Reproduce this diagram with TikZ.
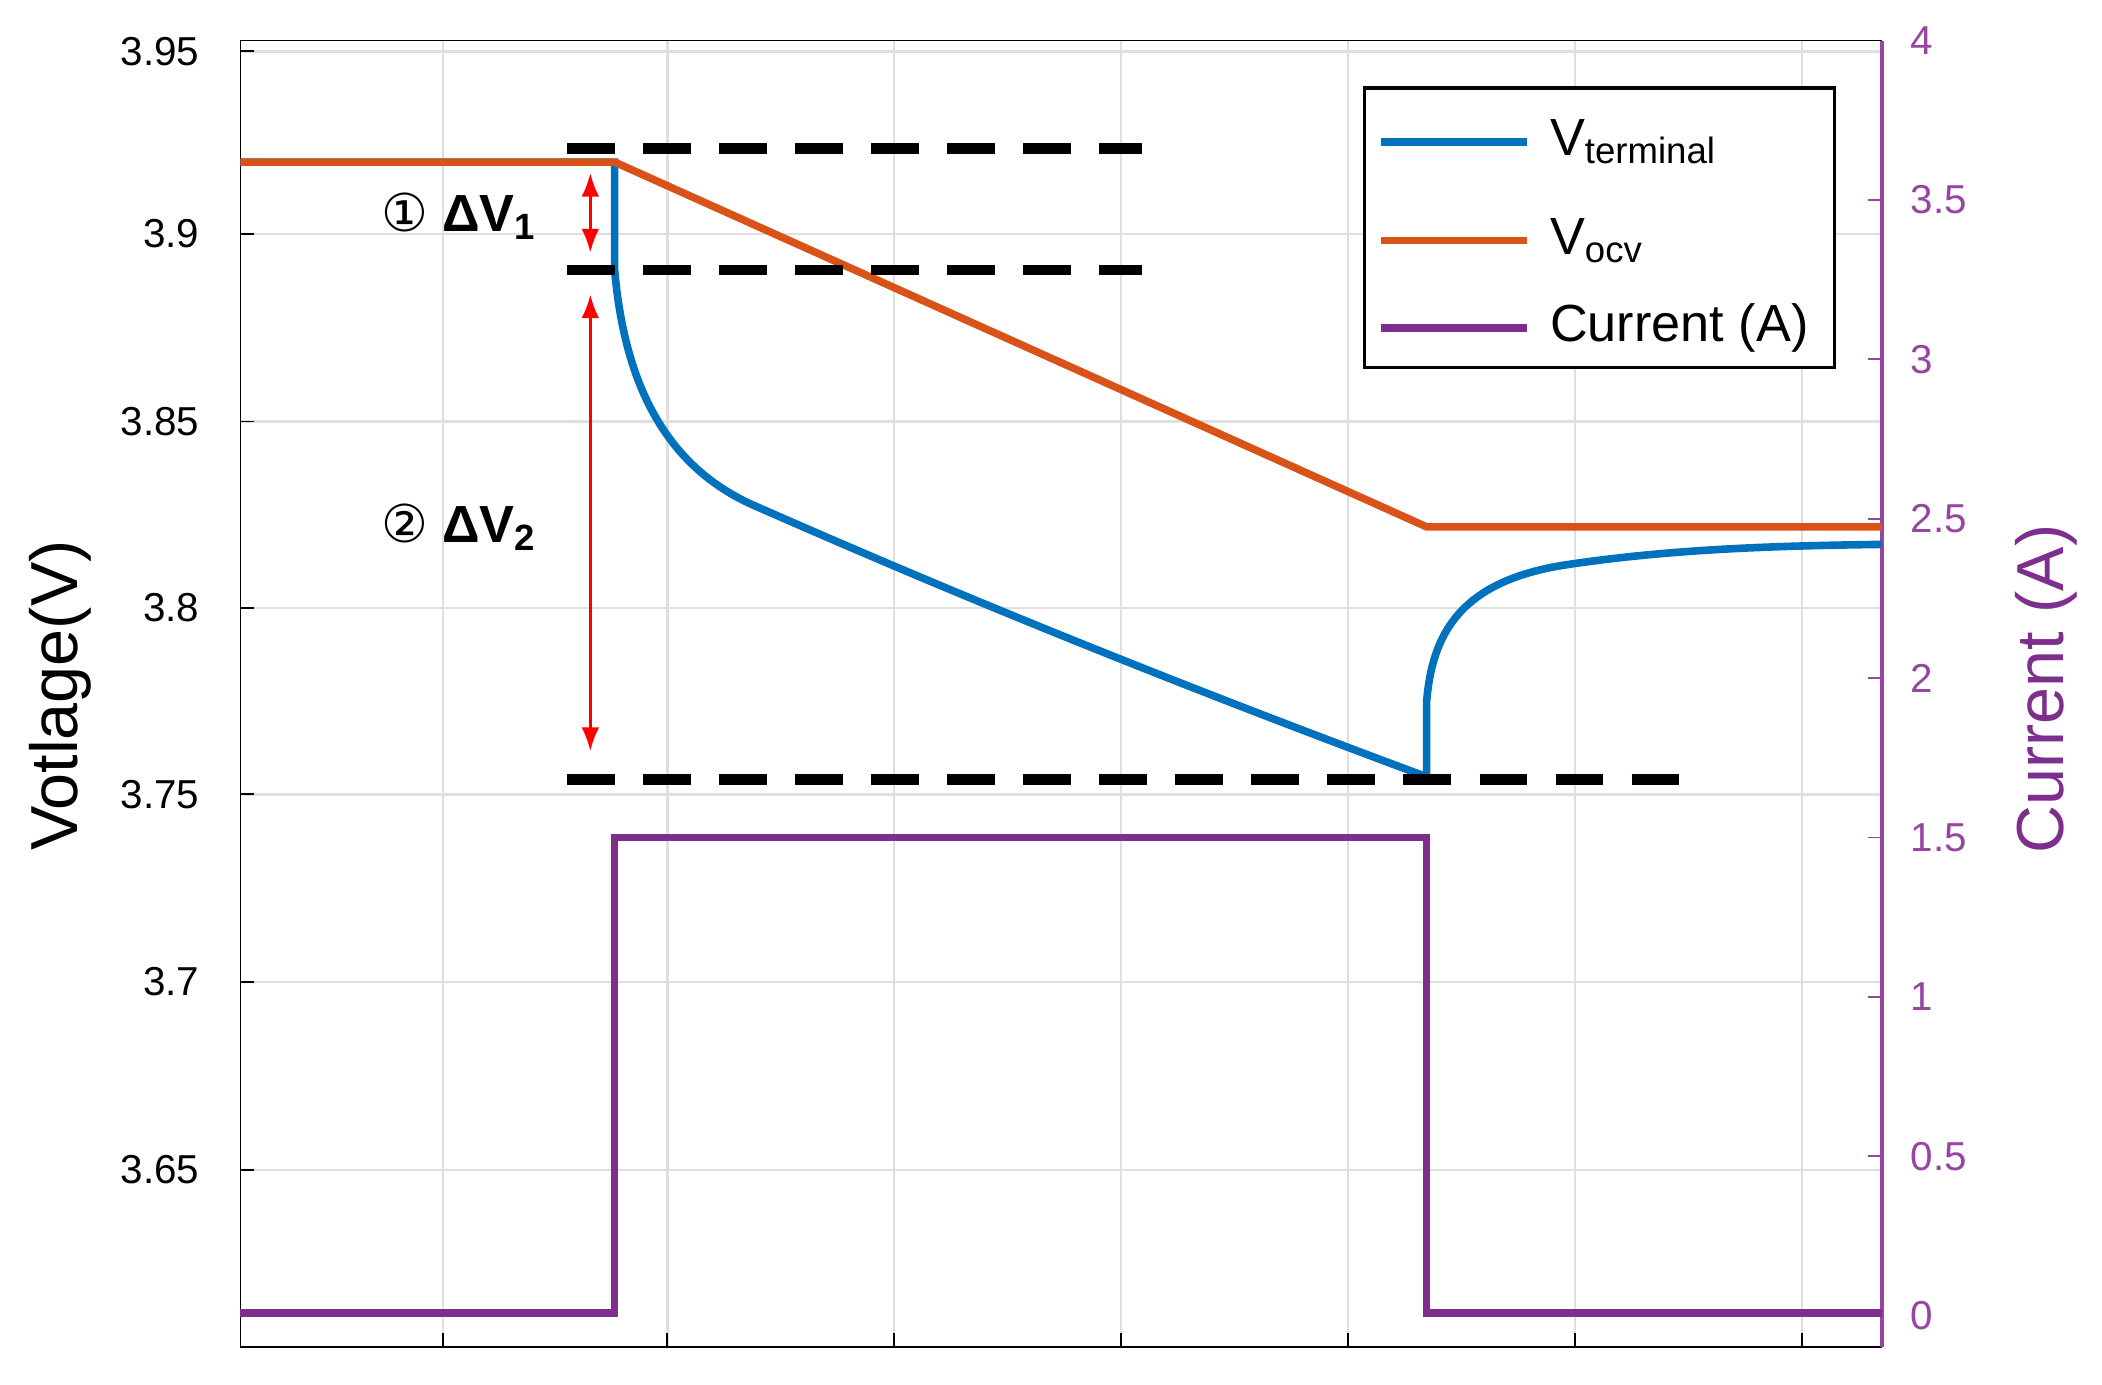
\documentclass[tikz,border=0pt]{standalone}
\usepackage{fontspec}
\usetikzlibrary{arrows.meta}
\setmainfont{Liberation Sans}
\newfontfamily\dejavu{DejaVu Sans}
\definecolor{mblue}{RGB}{0,114,189}
\definecolor{morange}{RGB}{217,83,25}
\definecolor{mpurple}{RGB}{126,47,142}
\definecolor{apurple}{RGB}{150,70,160}
\begin{document}
\begin{tikzpicture}[x=0.01cm,y=-0.01cm,
  tick/.style={font=\fontsize{8.5}{10}\selectfont},
  grid/.style={gray!25,line width=0.5pt},
  dashline/.style={black,line width=2.2pt,dash pattern=on 10pt off 6pt},
  redarr/.style={red,line width=0.6pt,{Latex[length=5pt]}-{Latex[length=5pt]}},
  curve/.style={line width=1.6pt}]
\useasboundingbox (0,0) rectangle (1556,1025);
% grid
\foreach \x in {328,494,662,830,998,1166,1334} {\draw[grid] (\x,30) -- (\x,997); \draw[black] (\x,997) -- (\x,987);}
\foreach \y/\l in {38/3.95,173/3.9,312/3.85,450/3.8,588/3.75,727/3.7,866/3.65} {
  \draw[grid] (178,\y) -- (1393,\y); \draw (178,\y) -- (188,\y);
  \node[tick,anchor=east] at (160,\y) {\l};}
\foreach \y/\l in {30/4,148/3.5,266/3,384/2.5,502/2,620/1.5,738/1,856/0.5,974/0} {
  \draw[apurple] (1393,\y) -- (1383,\y);
  \node[tick,anchor=west,text=apurple] at (1402,\y) {\l};}
\draw[black] (178,30) -- (178,997) -- (1393,997);
\draw[black] (178,30) -- (1393,30);
\draw[apurple,line width=0.8pt] (1393,30) -- (1393,997);
% curves
\draw[curve,mpurple] (178,972) -- (455,972) -- (455,620) -- (1056,620) -- (1056,972) -- (1393,972);
\draw[curve,mblue] (178,120) -- (455,120) -- (455,200) .. controls (462,280) and (490,345) .. (560,375)
  .. controls (640,410) and (800,480) .. (1056,575) -- (1056,520) .. controls (1060,470) and (1080,430) .. (1160,418)
  .. controls (1240,406) and (1320,404) .. (1393,403);
\draw[curve,morange] (178,120) -- (455,120) -- (1056,390) -- (1393,390);
% dashed
\draw[dashline] (420,110) -- (845,110);
\draw[dashline] (420,200) -- (845,200);
\draw[dashline] (420,577) -- (1248,577);
% red arrows
\coordinate (a1) at (437,128); \coordinate (a2) at (437,187);
\coordinate (b1) at (437,218); \coordinate (b2) at (437,556);
\draw[redarr] (a1) -- (a2);
\draw[redarr] (b1) -- (b2);
\node[font=\fontsize{11}{13}\selectfont\bfseries] (l1) at (340,160) {{\dejavu\mdseries ①} ΔV\textsubscript{1}};
\node[font=\fontsize{11}{13}\selectfont\bfseries] (l2) at (340,390) {{\dejavu\mdseries ②} ΔV\textsubscript{2}};
% legend
\draw[fill=white,line width=0.8pt] (1010,65) rectangle (1358,272);
\draw[curve,mblue] (1022,105) -- (1130,105);
\draw[curve,morange] (1022,178) -- (1130,178);
\draw[curve,mpurple] (1022,243) -- (1130,243);
\node[anchor=west,font=\fontsize{11}{13}\selectfont] at (1135,105) {V\textsubscript{terminal}};
\node[anchor=west,font=\fontsize{11}{13}\selectfont] at (1135,178) {V\textsubscript{ocv}};
\node[anchor=west,font=\fontsize{11}{13}\selectfont] at (1135,243) {Current (A)};
% axis labels
\node[rotate=90,font=\fontsize{14}{16}\selectfont] at (45,515) {Votlage(V)};
\node[rotate=90,font=\fontsize{14}{16}\selectfont,text=mpurple] at (1515,510) {Current (A)};
\end{tikzpicture}
\end{document}
